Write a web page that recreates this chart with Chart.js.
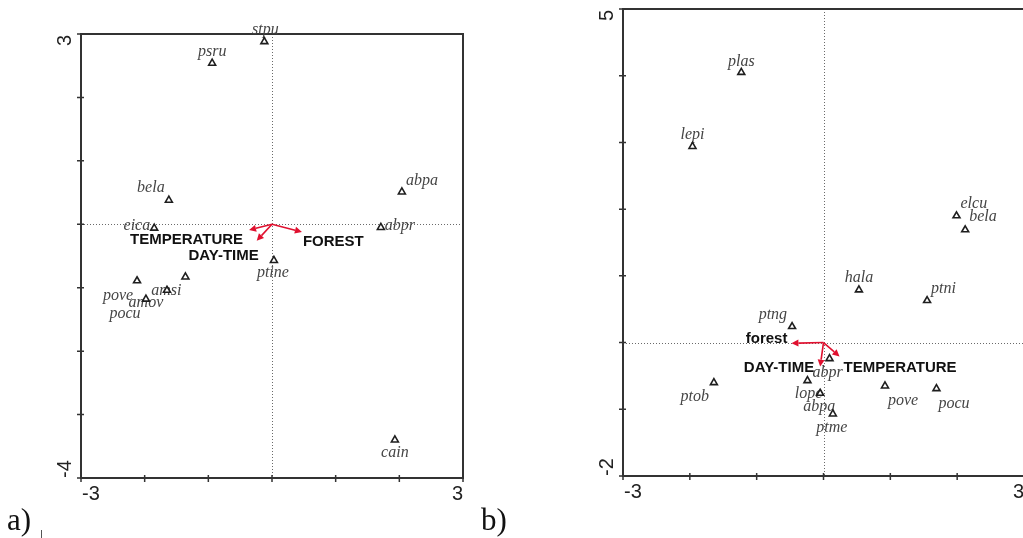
<!DOCTYPE html>
<html>
<head>
<meta charset="utf-8">
<script src="https://cdn.jsdelivr.net/npm/chart.js@4.4.1/dist/chart.umd.min.js"></script>
<style>
  html, body { margin: 0; padding: 0; background: #fff; width: 1023px; height: 538px; overflow: hidden; }
  canvas { position: absolute; top: 0; }
  #chartA { left: 0; }
  #chartB { left: 520px; }
  .tag { position: absolute; font-family: "Liberation Serif", "Times New Roman", serif; font-size: 31px; line-height: 31px; color: #111; }
  .mark { position: absolute; left: 41px; top: 530px; width: 1px; height: 8px; background: #555; }
</style>
</head>
<body>
<canvas id="chartA" width="500" height="538"></canvas>
<canvas id="chartB" width="510" height="538"></canvas>
<div class="tag" style="left:7px; top:504px;">a)</div>
<div class="tag" style="left:481px; top:504px;">b)</div>
<div class="mark"></div>
<script>
// ---- Panel a: species scores ----
const speciesA = ['stpu', 'psru', 'bela', 'eica', 'abpa', 'abpr', 'ptine', 'pove', 'amsi', 'amov', 'pocu', 'cain'];
const xA = [-0.12, -0.94, -1.62, -1.85, 2.04, 1.71, 0.03, -2.12, -1.36, -1.65, -1.98, 1.93];
const yA = [2.88, 2.54, 0.38, -0.06, 0.51, -0.05, -0.57, -0.89, -0.83, -1.04, -1.18, -3.40];

// ---- Panel a: environmental variables ----
const envA = ['TEMPERATURE', 'DAY-TIME', 'FOREST'];
const envXA = [-0.36, -0.24, 0.47];
const envYA = [-0.09, -0.26, -0.12];

// ---- Panel a: axis range / tick labels ----
const xTicksA = [-3, -2, -1, 0, 1, 2, 3];
const yTicksA = [-4, -3, -2, -1, 0, 1, 2, 3];
const xTickLabelsA = ['-3', '3'];
const yTickLabelsA = ['-4', '3'];

// ---- Panel b: species scores ----
const speciesB = ['plas', 'lepi', 'elcu', 'bela', 'hala', 'ptni', 'ptng', 'abpr', 'ptob', 'lope', 'abpa', 'ptme', 'pove', 'pocu'];
const xB = [-1.23, -1.96, 1.99, 2.12, 0.53, 1.55, -0.47, 0.09, -1.64, -0.24, -0.05, 0.14, 0.92, 1.69];
const yB = [4.05, 2.94, 1.90, 1.69, 0.79, 0.63, 0.24, -0.24, -0.60, -0.57, -0.76, -1.07, -0.65, -0.69];

// ---- Panel b: environmental variables ----
const envB = ['forest', 'DAY-TIME', 'TEMPERATURE'];
const envXB = [-0.48, -0.05, 0.24];
const envYB = [-0.01, -0.36, -0.21];

// ---- Panel b: axis range / tick labels ----
const xTicksB = [-3, -2, -1, 0, 1, 2, 3];
const yTicksB = [-2, -1, 0, 1, 2, 3, 4, 5];
const xTickLabelsB = ['-3', '3'];
const yTickLabelsB = ['-2', '5'];

// Label placement relative to each marker: [dx, dy, align]
const speciesLabelPosA = [
  [1, -12, 'center'], [0, -11, 'center'], [-18, -12, 'center'], [-4, -2, 'right'],
  [4, -11, 'left'], [4, -2, 'left'], [-1, 12, 'center'], [-19, 15, 'center'],
  [-19, 14, 'center'], [-21, 13, 'center'], [-21, 15, 'center'], [0, 13, 'center']
];
const envLabelPosA = [[-6, 10, 'right'], [2, 15, 'right'], [1, 10, 'left']];

const speciesLabelPosB = [
  [0, -11, 'center'], [0, -12, 'center'], [4, -12, 'left'], [4, -13, 'left'],
  [0, -12, 'center'], [4, -12, 'left'], [-5, -12, 'right'], [-2, 14, 'center'],
  [-5, 14, 'right'], [1, 13, 'center'], [-1, 14, 'center'], [-1, 14, 'center'],
  [3, 15, 'left'], [2, 15, 'left']
];
const envLabelPosB = [[-4, -4, 'right'], [-6, 1, 'right'], [4, 11, 'left']];

const SPECIES_FONT = 'italic 16px "Liberation Serif", "Times New Roman", serif';
const ENV_FONT = 'bold 15px "Liberation Sans", Arial, sans-serif';
const TICK_FONT = '20px "Liberation Sans", Arial, sans-serif';
const ARROW_COLOR = '#e0102f';

// Draws the frame, zero lines, ticks, species names and biplot arrows
function ordinationPlugin(cfg) {
  return {
    id: 'ordination',
    beforeDatasetsDraw(chart) {
      const { ctx, chartArea: a, scales: { x, y } } = chart;
      ctx.save();

      // dotted zero lines
      const x0 = Math.round(x.getPixelForValue(0)) + 0.5;
      const y0 = Math.round(y.getPixelForValue(0)) + 0.5;
      ctx.strokeStyle = '#6a6a6a';
      ctx.lineWidth = 1;
      ctx.setLineDash([1, 2]);
      ctx.beginPath();
      ctx.moveTo(x0, a.top); ctx.lineTo(x0, a.bottom);
      ctx.moveTo(a.left, y0); ctx.lineTo(a.right, y0);
      ctx.stroke();
      ctx.setLineDash([]);

      // frame
      ctx.strokeStyle = '#333';
      ctx.lineWidth = 2;
      ctx.strokeRect(a.left, a.top, a.right - a.left, a.bottom - a.top);

      // tick marks
      ctx.lineWidth = 1.5;
      ctx.beginPath();
      cfg.xTicks.forEach(v => {
        const px = x.getPixelForValue(v);
        ctx.moveTo(px, a.bottom - 3); ctx.lineTo(px, a.bottom + 4);
      });
      cfg.yTicks.forEach(v => {
        const py = y.getPixelForValue(v);
        ctx.moveTo(a.left - 4, py); ctx.lineTo(a.left + 3, py);
      });
      ctx.stroke();

      // tick labels: range ends only
      ctx.fillStyle = '#222';
      ctx.font = TICK_FONT;
      ctx.textBaseline = 'middle';
      ctx.textAlign = 'left';
      ctx.fillText(cfg.xTickLabels[0], x.getPixelForValue(x.min) + 1, a.bottom + 16);
      ctx.textAlign = 'right';
      ctx.fillText(cfg.xTickLabels[1], x.getPixelForValue(x.max), a.bottom + 16);

      const ly = a.left - 16;
      ctx.save();
      ctx.translate(ly, y.getPixelForValue(y.min));
      ctx.rotate(-Math.PI / 2);
      ctx.textAlign = 'left';
      ctx.fillText(cfg.yTickLabels[0], 0, 0);
      ctx.restore();
      ctx.save();
      ctx.translate(ly, y.getPixelForValue(y.max));
      ctx.rotate(-Math.PI / 2);
      ctx.textAlign = 'right';
      ctx.fillText(cfg.yTickLabels[1], -1, 0);
      ctx.restore();

      // species names
      ctx.font = SPECIES_FONT;
      ctx.fillStyle = '#454545';
      ctx.textBaseline = 'middle';
      cfg.names.forEach((n, i) => {
        const [dx, dy, al] = cfg.namePos[i];
        ctx.textAlign = al;
        ctx.fillText(n, x.getPixelForValue(cfg.xs[i]) + dx, y.getPixelForValue(cfg.ys[i]) + dy);
      });
      ctx.restore();
    },
    afterDatasetsDraw(chart) {
      const { ctx, scales: { x, y } } = chart;
      ctx.save();
      const ox = x.getPixelForValue(0), oy = y.getPixelForValue(0);
      ctx.strokeStyle = ARROW_COLOR;
      ctx.fillStyle = ARROW_COLOR;
      ctx.lineWidth = 1.6;
      cfg.env.forEach((n, i) => {
        const tx = x.getPixelForValue(cfg.envX[i]);
        const ty = y.getPixelForValue(cfg.envY[i]);
        const ang = Math.atan2(ty - oy, tx - ox);
        const hl = 7, hw = 3.5;
        const bx = tx - hl * Math.cos(ang), by = ty - hl * Math.sin(ang);
        ctx.beginPath();
        ctx.moveTo(ox, oy); ctx.lineTo(bx, by);
        ctx.stroke();
        ctx.beginPath();
        ctx.moveTo(tx, ty);
        ctx.lineTo(bx + hw * Math.sin(ang), by - hw * Math.cos(ang));
        ctx.lineTo(bx - hw * Math.sin(ang), by + hw * Math.cos(ang));
        ctx.closePath();
        ctx.fill();
      });
      ctx.font = ENV_FONT;
      ctx.fillStyle = '#111';
      ctx.textBaseline = 'middle';
      cfg.env.forEach((n, i) => {
        const [dx, dy, al] = cfg.envPos[i];
        ctx.textAlign = al;
        ctx.fillText(n, x.getPixelForValue(cfg.envX[i]) + dx, y.getPixelForValue(cfg.envY[i]) + dy);
      });
      ctx.restore();
    }
  };
}

function makeChart(id, cfg, xRange, yRange, padding) {
  return new Chart(document.getElementById(id), {
    type: 'scatter',
    data: {
      datasets: [{
        data: cfg.names.map((n, i) => ({ x: cfg.xs[i], y: cfg.ys[i] })),
        pointStyle: 'triangle',
        radius: 4,
        borderWidth: 1.6,
        borderColor: '#1e1e1e',
        backgroundColor: '#fff'
      }]
    },
    options: {
      responsive: false,
      animation: false,
      events: [],
      layout: { padding },
      plugins: { legend: { display: false }, tooltip: { enabled: false } },
      scales: {
        x: { type: 'linear', min: xRange[0], max: xRange[1], display: false },
        y: { type: 'linear', min: yRange[0], max: yRange[1], display: false }
      }
    },
    plugins: [ordinationPlugin(cfg)]
  });
}

makeChart('chartA', {
  names: speciesA, xs: xA, ys: yA, namePos: speciesLabelPosA,
  env: envA, envX: envXA, envY: envYA, envPos: envLabelPosA,
  xTicks: xTicksA, yTicks: yTicksA, xTickLabels: xTickLabelsA, yTickLabels: yTickLabelsA
}, [-3, 3], [-4, 3], { left: 81, top: 34, right: 37, bottom: 60 });

makeChart('chartB', {
  names: speciesB, xs: xB, ys: yB, namePos: speciesLabelPosB,
  env: envB, envX: envXB, envY: envYB, envPos: envLabelPosB,
  xTicks: xTicksB, yTicks: yTicksB, xTickLabels: xTickLabelsB, yTickLabels: yTickLabelsB
}, [-3, 3], [-2, 5], { left: 103, top: 9, right: 6, bottom: 62 });
</script>
</body>
</html>
